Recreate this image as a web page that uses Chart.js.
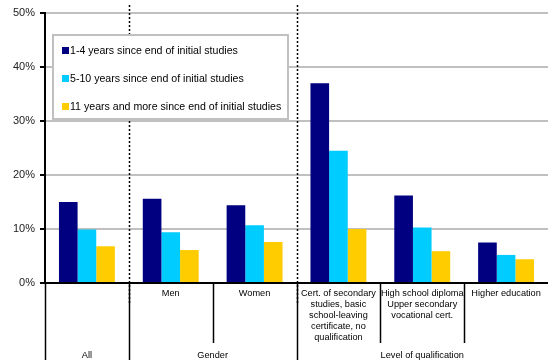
<!DOCTYPE html>
<html>
<head>
<meta charset="utf-8">
<script src="https://cdn.jsdelivr.net/npm/chart.js@4/dist/chart.umd.min.js"></script>
<style>
  html, body { margin: 0; padding: 0; background: #fff; }
  #wrap { width: 548px; height: 360px; }
</style>
</head>
<body>
<div id="wrap"><canvas id="chart"></canvas></div>
<script>
// Categories (first level) and their groups (second level)
const categories = [
    [''],
    ['Men'],
    ['Women'],
    ['Cert. of secondary', 'studies, basic', 'school-leaving', 'certificate, no', 'qualification'],
    ['High school diploma', 'Upper secondary', 'vocational cert.'],
    ['Higher education']
];
const groups = ['All', 'Gender', 'Level of qualification'];
const groupSpans = [1, 2, 3];

// Share of young people, in %
const seriesNames = [
    '1-4 years since end of initial studies',
    '5-10 years since end of initial studies',
    '11 years and more since end of initial studies'
];
const recent = [15.0, 15.6, 14.4, 37.0, 16.2, 7.5];
const middle = [9.9, 9.4, 10.7, 24.5, 10.3, 5.2];
const older = [6.8, 6.1, 7.6, 10.0, 5.9, 4.4];

const seriesColors = ['#000080', '#00CCFF', '#FFCC00'];
const yTicks = [0, 10, 20, 30, 40, 50];

const font = "'Liberation Sans', Arial, sans-serif";

// Separator lines under the axis and the legend box
const layoutPlugin = {
    id: 'groupLayout',
    afterDraw(chart) {
        const ctx = chart.ctx;
        const x = chart.scales.x;
        const area = chart.chartArea;
        const step = (x.right - x.left) / categories.length;
        const bottom = chart.height;

        ctx.save();
        ctx.strokeStyle = '#000';

        // short separators between categories inside a group
        ctx.lineWidth = 1.5;
        let start = 0;
        groupSpans.forEach(span => {
            for (let i = start + 1; i < start + span; i++) {
                const px = Math.round(x.left + i * step) + 0.5;
                ctx.beginPath();
                ctx.moveTo(px, area.bottom);
                ctx.lineTo(px, area.bottom + 60);
                ctx.stroke();
            }
            start += span;
        });

        // full separators between groups, dotted through the plot
        start = 0;
        groupSpans.forEach((span, g) => {
            const px = Math.round(x.left + start * step) + 0.5;
            ctx.setLineDash([]);
            ctx.beginPath();
            ctx.moveTo(px, area.bottom);
            ctx.lineTo(px, bottom);
            ctx.stroke();
            if (g > 0) {
                ctx.setLineDash([2, 2]);
                ctx.beginPath();
                ctx.moveTo(px, area.top - 8);
                ctx.lineTo(px, area.bottom + 20);
                ctx.stroke();
            }
            // group label
            ctx.setLineDash([]);
            ctx.fillStyle = '#000';
            ctx.font = '9.2px ' + font;
            ctx.textAlign = 'center';
            ctx.textBaseline = 'middle';
            ctx.fillText(groups[g], x.left + (start + span / 2) * step, bottom - 5);
            start += span;
        });

        // legend
        const lx = 53, ly = 35, lw = 235, lh = 84;
        ctx.fillStyle = '#fff';
        ctx.fillRect(lx, ly, lw, lh);
        ctx.strokeStyle = '#c0c0c0';
        ctx.lineWidth = 2;
        ctx.strokeRect(lx, ly, lw, lh);
        ctx.font = '10.6px ' + font;
        ctx.textAlign = 'left';
        ctx.textBaseline = 'middle';
        seriesNames.forEach((name, i) => {
            const cy = ly + 16 + i * 28;
            ctx.fillStyle = seriesColors[i];
            ctx.fillRect(lx + 9, cy - 4, 7, 7);
            ctx.fillStyle = '#000';
            ctx.fillText(name, lx + 17, cy);
        });
        ctx.restore();
    }
};

const ctx = document.getElementById('chart').getContext('2d');
new Chart(ctx, {
    type: 'bar',
    data: {
        labels: categories,
        datasets: [recent, middle, older].map((values, i) => ({
            label: seriesNames[i],
            data: values,
            backgroundColor: seriesColors[i],
            borderWidth: 0
        }))
    },
    options: {
        responsive: true,
        maintainAspectRatio: false,
        animation: false,
        datasets: {
            bar: { categoryPercentage: 0.667, barPercentage: 1.0 }
        },
        layout: { padding: { top: 13, right: 0, left: 0, bottom: 0 } },
        plugins: {
            legend: { display: false },
            tooltip: { enabled: false }
        },
        scales: {
            x: {
                grid: { display: false, drawTicks: false },
                border: { display: true, color: '#000', width: 2 },
                ticks: {
                    autoSkip: false,
                    maxRotation: 0,
                    minRotation: 0,
                    padding: 5,
                    color: '#000',
                    font: { family: font, size: 9.2, lineHeight: 1.2 }
                },
                afterFit(scale) { scale.height = 77; }
            },
            y: {
                min: 0,
                max: 50,
                afterBuildTicks(scale) { scale.ticks = yTicks.map(v => ({ value: v })); },
                grid: {
                    color: c => (c.tick && c.tick.value === 0) ? 'rgba(0,0,0,0)' : '#c0c0c0',
                    lineWidth: 2,
                    tickColor: '#000',
                    tickLength: 5
                },
                border: { display: true, color: '#000', width: 2 },
                ticks: {
                    padding: 5,
                    color: '#222',
                    font: { family: font, size: 11 },
                    callback: v => v + '%'
                },
                afterFit(scale) { scale.width = 45; }
            }
        }
    },
    plugins: [layoutPlugin]
});
</script>
</body>
</html>
